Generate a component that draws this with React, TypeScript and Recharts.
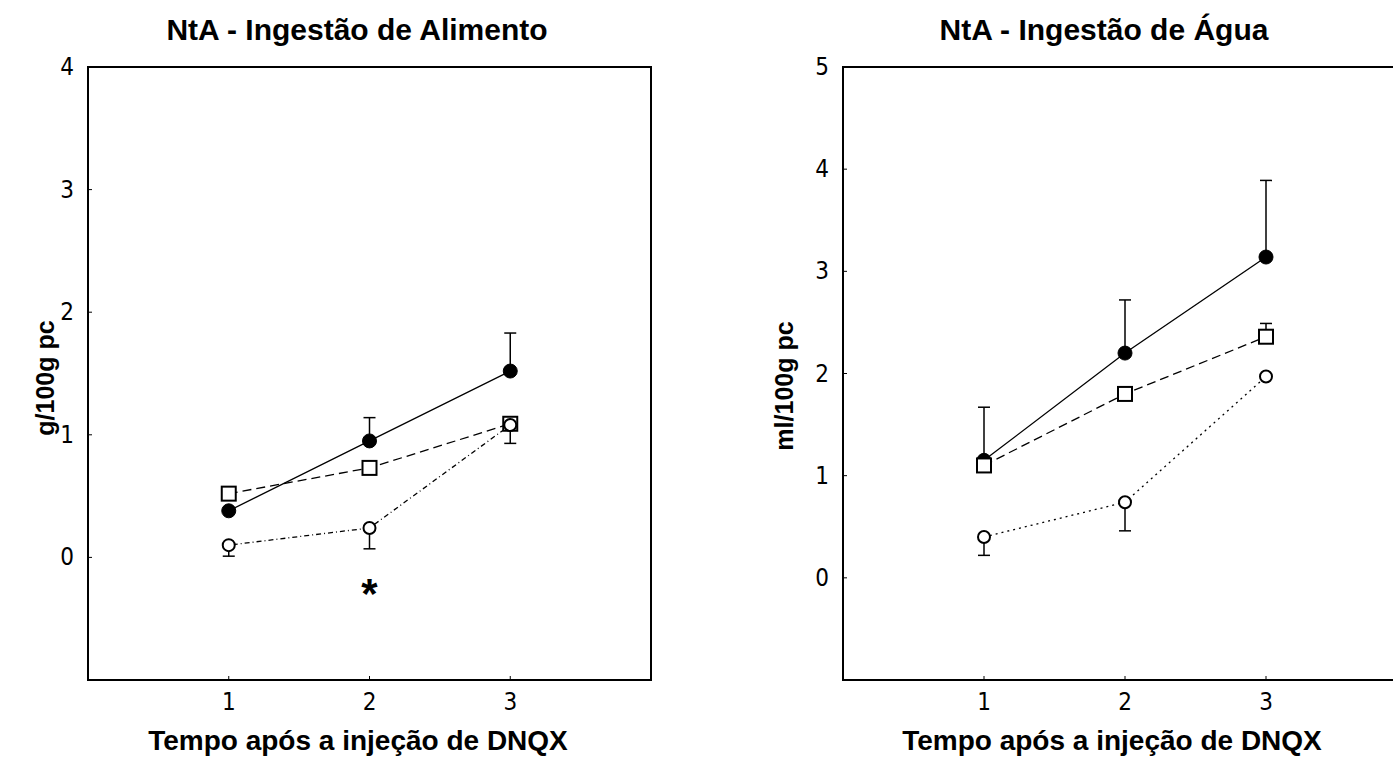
import { LineChart, Line, XAxis, YAxis, ErrorBar, ReferenceArea, ReferenceDot, Label } from 'recharts'

const FONT = '"Liberation Sans", Arial, sans-serif'
const NARROW = '"Liberation Sans Narrow", "DejaVu Sans Condensed", "Liberation Sans", Arial, sans-serif'

const times = [1, 2, 3]
const xTicks = [1, 2, 3]

// NtA - Ingestão de Alimento (g/100g pc)
const foodTicks = [0, 1, 2, 3, 4]
const foodFilled = [0.38, 0.95, 1.52]
const foodFilledErr = [[0, 0], [0, 0.19], [0, 0.31]]
const foodSquare = [0.52, 0.73, 1.09]
const foodSquareErr = [[0, 0], [0, 0], [0, 0]]
const foodOpen = [0.1, 0.24, 1.08]
const foodOpenErr = [[0.09, 0], [0.17, 0], [0.15, 0]]
const foodStar = [{ t: 2, v: -0.27 }]

// NtA - Ingestão de Água (ml/100g pc)
const waterTicks = [0, 1, 2, 3, 4, 5]
const waterFilled = [1.15, 2.2, 3.14]
const waterFilledErr = [[0, 0.52], [0, 0.52], [0, 0.75]]
const waterSquare = [1.1, 1.8, 2.36]
const waterSquareErr = [[0, 0], [0, 0], [0, 0.13]]
const waterOpen = [0.4, 0.74, 1.97]
const waterOpenErr = [[0.18, 0], [0.28, 0], [0, 0]]

const buildRows = (filled: number[], filledErr: number[][], square: number[], squareErr: number[][], open: number[], openErr: number[][]) =>
  times.map((t, i) => ({
    t,
    filled: filled[i],
    filledErr: filledErr[i],
    square: square[i],
    squareErr: squareErr[i],
    open: open[i],
    openErr: openErr[i],
  }))

const foodRows = buildRows(foodFilled, foodFilledErr, foodSquare, foodSquareErr, foodOpen, foodOpenErr)
const waterRows = buildRows(waterFilled, waterFilledErr, waterSquare, waterSquareErr, waterOpen, waterOpenErr)

const SquareDot = (props: any) => {
  const { cx, cy, index } = props
  if (cx == null || cy == null) return null
  return <rect key={`sq-${index}`} x={cx - 7} y={cy - 7} width={14} height={14} fill="#fff" stroke="#000" strokeWidth={2} />
}

const TickText = (props: any) => {
  const { x, y, payload, textAnchor } = props
  return (
    <text x={x} y={y} textAnchor={textAnchor} dominantBaseline="central" fontFamily={NARROW} fontSize={24} fill="#000">
      {payload.value}
    </text>
  )
}

interface PanelProps {
  left: number
  width: number
  marginLeft: number
  marginRight: number
  title: string
  titleX: number
  yLabel: string
  yLabelX: number
  yLabelY: number
  xLabelX: number
  rows: any[]
  yDomain: number[]
  yTicks: number[]
  openDash: string
  star?: { t: number; v: number }[]
}

function Panel(p: PanelProps) {
  return (
    <div style={{ position: 'absolute', left: p.left, top: 0, width: p.width, height: 760 }}>
      <div style={{ position: 'absolute', left: p.titleX - 300, top: 11, width: 600, textAlign: 'center', fontFamily: FONT, fontWeight: 700, fontSize: 30, lineHeight: '38px', color: '#000' }}>
        {p.title}
      </div>
      <LineChart width={p.width} height={760} data={p.rows} margin={{ top: 67, right: p.marginRight, bottom: 30, left: p.marginLeft }}>
        <ReferenceArea x1={0} x2={4} y1={p.yDomain[0]} y2={p.yDomain[1]} fill="none" stroke="#000" strokeWidth={2} ifOverflow="visible" />
        <XAxis
          type="number"
          dataKey="t"
          domain={[0, 4]}
          ticks={xTicks}
          allowDataOverflow
          height={50}
          axisLine={{ stroke: '#000', strokeWidth: 2 }}
          tickLine={{ stroke: '#000' }}
          tickSize={-4}
          tickMargin={26}
          tick={<TickText />}
        >
          <Label
            content={() => (
              <text x={p.xLabelX} y={740} textAnchor="middle" dominantBaseline="central" fontFamily={FONT} fontWeight={700} fontSize={28} fill="#000">
                Tempo após a injeção de DNQX
              </text>
            )}
          />
        </XAxis>
        <YAxis
          type="number"
          domain={p.yDomain}
          ticks={p.yTicks}
          allowDataOverflow
          width={60}
          axisLine={{ stroke: '#000', strokeWidth: 2 }}
          tickLine={{ stroke: '#000' }}
          tickSize={-4}
          tickMargin={18}
          tick={<TickText />}
        >
          <Label
            content={() => (
              <text
                x={p.yLabelX}
                y={p.yLabelY}
                textAnchor="middle"
                dominantBaseline="central"
                transform={`rotate(-90 ${p.yLabelX} ${p.yLabelY})`}
                fontFamily={FONT}
                fontWeight={700}
                fontSize={25}
                fill="#000"
              >
                {p.yLabel}
              </text>
            )}
          />
        </YAxis>
        <Line dataKey="filled" stroke="#000" strokeWidth={1.3} dot={{ r: 7, fill: '#000', stroke: '#000', strokeWidth: 1 }} isAnimationActive={false}>
          <ErrorBar dataKey="filledErr" direction="y" width={6} stroke="#000" strokeWidth={1.5} />
        </Line>
        <Line dataKey="square" stroke="#000" strokeWidth={1.3} strokeDasharray="9 5" dot={<SquareDot />} isAnimationActive={false}>
          <ErrorBar dataKey="squareErr" direction="y" width={6} stroke="#000" strokeWidth={1.5} />
        </Line>
        <Line
          dataKey="open"
          stroke="#000"
          strokeWidth={1.3}
          strokeDasharray={p.openDash}
          dot={{ r: 6, fill: '#fff', stroke: '#000', strokeWidth: 2, strokeDasharray: 'none' }}
          isAnimationActive={false}
        >
          <ErrorBar dataKey="openErr" direction="y" width={6} stroke="#000" strokeWidth={1.5} />
        </Line>
        {(p.star || []).map((s, i) => (
          <ReferenceDot
            key={`star-${i}`}
            x={s.t}
            y={s.v}
            r={1}
            fill="none"
            stroke="none"
            ifOverflow="visible"
            label={{
              content: (lp: any) => {
                const vb = lp.viewBox || {}
                const cx = (vb.x ?? 0) + (vb.width ?? 0) / 2
                const cy = (vb.y ?? 0) + (vb.height ?? 0) / 2
                return (
                  <text x={cx} y={cy + 17} textAnchor="middle" fontFamily={FONT} fontWeight={700} fontSize={42} fill="#000">
                    *
                  </text>
                )
              },
            }}
          />
        ))}
      </LineChart>
    </div>
  )
}

export default function App() {
  return (
    <div style={{ position: 'absolute', left: 0, top: 0, width: 1393, height: 760, overflow: 'hidden', background: '#fff' }}>
      <Panel
        left={0}
        width={700}
        marginLeft={28}
        marginRight={49}
        title="NtA - Ingestão de Alimento"
        titleX={357}
        yLabel="g/100g pc"
        yLabelX={45}
        yLabelY={378}
        xLabelX={358}
        rows={foodRows}
        yDomain={[-1, 4]}
        yTicks={foodTicks}
        openDash="1 3 5 3"
        star={foodStar}
      />
      <Panel
        left={700}
        width={760}
        marginLeft={83}
        marginRight={53}
        title="NtA - Ingestão de Água"
        titleX={404}
        yLabel="ml/100g pc"
        yLabelX={84}
        yLabelY={386}
        xLabelX={412}
        rows={waterRows}
        yDomain={[-1, 5]}
        yTicks={waterTicks}
        openDash="2 4"
      />
    </div>
  )
}
